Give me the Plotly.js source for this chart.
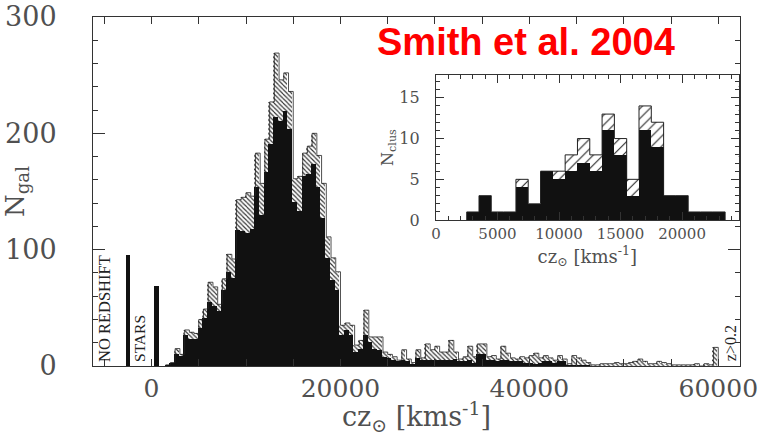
<!DOCTYPE html>
<html>
<head>
<meta charset="utf-8">
<script src="https://cdn.plot.ly/plotly-3.0.1.min.js"></script>
<style>html,body{margin:0;padding:0;background:#fff;}#chart{width:764px;height:436px;}</style>
</head>
<body>
<div id="chart"></div>
<script>
// ---- main histogram: N_gal per 500 km/s bin, starting at 1500 km/s ----
var mainBinStart = 1500;
var mainBinWidth = 500;
var mainTotal = [1,3,15,10,31,29,28,40,49,72,68,53,75,96,92,143,145,149,146,183,
  157,195,227,269,246,252,236,161,163,183,189,200,181,157,111,93,81,35,37,35,
  18,22,48,25,25,25,12,10,8,5,14,6,3,14,7,19,14,17,12,12,
  22,12,6,8,17,8,19,19,8,9,6,17,11,7,6,8,7,9,11,7,
  9,7,5,9,6,2,9,7,5,3,1,1,2,2,2,3,2,2,3,4,
  6,4,2,2,4,3,2,1,1,1,1,1,2,0,2,1,16];
var mainBlack = [1,3,10,9,27,23,23,33,41,55,52,47,65,81,76,117,116,114,118,154,
  130,167,191,214,211,219,204,141,133,163,165,174,154,127,93,74,65,27,31,27,
  12,15,27,21,15,14,8,7,5,4,5,4,2,7,5,5,5,5,5,5,
  5,6,4,4,5,3,10,10,5,5,4,5,5,4,4,4,3,3,2,3,
  4,4,3,4,4,1,1,1,1,1,0,0,0,0,0,0,0,0,0,0,
  0,0,0,0,0,0,0,0,0,0,0,0,0,0,0,0,0];
// special bins
var specialLabels = ["NO REDSHIFT", "STARS"];
var specialX = [-3250, -250];
var specialN = [95, 69];

// ---- inset: N_clus per 1000 km/s bin ----
var insetX = [3000,4000,5000,6000,7000,8000,9000,10000,11000,12000,13000,14000,15000,16000,17000,18000,19000,20000,21000,22000,23000];
var insetBlack = [1,3,1,1,4,2,6,5,6,7,6,11,8,3,11,9,3,3,1,1,1];
var insetTotal = [1,3,1,1,5,2,6,6,8,10,8,13,10,5,14,12,3,3,1,1,1];

var xTickVals = [0, 20000, 40000, 60000];
var insetTickVals = [0, 5000, 10000, 15000, 20000];

// derived
var mainX = mainTotal.map(function(_, i){ return mainBinStart + mainBinWidth*(i+0.5); });
var mainHatch = mainTotal.map(function(t, i){ return Math.max(0, t - mainBlack[i]); });
function stepOutline(centers, vals, w){
  var xs = [centers[0]-w/2], ys = [0];
  for (var i=0;i<centers.length;i++){ xs.push(centers[i]-w/2); ys.push(vals[i]); }
  xs.push(centers[centers.length-1]+w/2); ys.push(vals[vals.length-1]);
  xs.push(centers[centers.length-1]+w/2); ys.push(0);
  return {x: xs, y: ys};
}
var mainOut = stepOutline(mainX, mainTotal, mainBinWidth);
var insetHatch = insetTotal.map(function(t,i){ return t - insetBlack[i]; });
var insetOut = stepOutline(insetX, insetTotal, 1000);

var serif = "DejaVu Serif, Liberation Serif, serif";
var grey = "#505050";

var traces = [
  {type:'bar', x: mainX, y: mainBlack, width: mainBinWidth, marker:{color:'#111', line:{width:0}}, xaxis:'x', yaxis:'y', hoverinfo:'skip'},
  {type:'bar', x: mainX, y: mainHatch, width: mainBinWidth,
    marker:{color:'#fff', line:{width:0}, pattern:{shape:'\\', size:3.2, solidity:0.35, fgcolor:'#333', bgcolor:'#fff', fillmode:'replace'}},
    xaxis:'x', yaxis:'y', hoverinfo:'skip'},
  {type:'scatter', mode:'lines', x: mainOut.x, y: mainOut.y, line:{shape:'hv', color:'#222', width:0.8}, xaxis:'x', yaxis:'y', hoverinfo:'skip'},
  {type:'bar', x: specialX, y: specialN, width: 500, marker:{color:'#111', line:{width:0}}, xaxis:'x', yaxis:'y', hoverinfo:'skip', base:0, offsetgroup:'s'},
  {type:'bar', x: insetX, y: insetBlack, width: 1000, marker:{color:'#111', line:{width:0}}, xaxis:'x2', yaxis:'y2', hoverinfo:'skip'},
  {type:'bar', x: insetX, y: insetHatch, width: 1000,
    marker:{color:'#fff', line:{width:0}, pattern:{shape:'/', size:7, solidity:0.15, fgcolor:'#222', bgcolor:'#fff', fillmode:'replace'}},
    xaxis:'x2', yaxis:'y2', hoverinfo:'skip'},
  {type:'scatter', mode:'lines', x: insetOut.x, y: insetOut.y, line:{shape:'hv', color:'#222', width:1}, xaxis:'x2', yaxis:'y2', hoverinfo:'skip'}
];

var axisCommon = {showline:true, linecolor:'#333', linewidth:1, mirror:'ticks', ticks:'inside', tickcolor:'#333', showgrid:false, zeroline:false, fixedrange:true};

var layout = {
  width:764, height:436, margin:{l:93, r:24, t:17, b:70},
  paper_bgcolor:'#fff', plot_bgcolor:'#fff', showlegend:false, barmode:'stack', bargap:0,
  xaxis: Object.assign({}, axisCommon, {range:[-6200, 62300], tickvals: xTickVals, ticktext: xTickVals.map(String), ticklen:7,
    minor:{dtick:5000, tick0:0, ticks:'inside', ticklen:7, tickcolor:'#333'},
    tickfont:{family:serif, size:25, color:grey},
    title:{text:'cz<sub>⊙</sub> [kms<sup>-1</sup>]', font:{family:serif, size:27, color:grey}, standoff:8}}),
  yaxis: Object.assign({}, axisCommon, {range:[0,300], dtick:100, ticklen:12, ticklabelstandoff:30,
    minor:{dtick:20, ticks:'inside', ticklen:5, tickcolor:'#333'},
    tickfont:{family:serif, size:27, color:grey},
    title:{text:'N<sub>gal</sub>', font:{family:serif, size:26, color:grey}, standoff:0}}),
  xaxis2: Object.assign({}, axisCommon, {domain:[0.530, 0.998], anchor:'y2', range:[0,24600], tickvals: insetTickVals, ticktext: insetTickVals.map(String), ticklen:8,
    minor:{dtick:1000, ticks:'inside', ticklen:4, tickcolor:'#333'},
    tickfont:{family:serif, size:15, color:grey},
    title:{text:'cz<sub>⊙</sub> [kms<sup>-1</sup>]', font:{family:serif, size:18, color:grey}, standoff:0}}),
  yaxis2: Object.assign({}, axisCommon, {domain:[0.418, 0.834], anchor:'x2', range:[0,17.8], dtick:5, ticklen:8, ticklabelstandoff:12,
    minor:{dtick:1, ticks:'inside', ticklen:4, tickcolor:'#333'},
    tickfont:{family:serif, size:16, color:grey},
    title:{text:'N<sub>clus</sub>', font:{family:serif, size:16, color:grey}, standoff:0}}),
  annotations:[
    {xref:'x', yref:'y', x:-5050, y:2, text:specialLabels[0], textangle:-90, showarrow:false, xanchor:'center', yanchor:'bottom', font:{family:'Liberation Serif, serif', size:16.5, color:'#222'}},
    {xref:'x', yref:'y', x:-1350, y:2, text:specialLabels[1], textangle:-90, showarrow:false, xanchor:'center', yanchor:'bottom', font:{family:'Liberation Serif, serif', size:15.5, color:'#222'}},
    {xref:'x', yref:'y', x:61300, y:2, text:'z&gt;0.2', textangle:-90, showarrow:false, xanchor:'center', yanchor:'bottom', font:{family:'Liberation Serif, serif', size:16, color:'#222'}},
    {xref:'paper', yref:'paper', x:0.669, y:0.928, text:'<b>Smith et al. 2004</b>', showarrow:false, xanchor:'center', yanchor:'middle', font:{family:'Liberation Sans, Arial, sans-serif', size:38, color:'#ff0000'}}
  ]
};

Plotly.newPlot('chart', traces, layout, {staticPlot:true, displayModeBar:false});
</script>
</body>
</html>
